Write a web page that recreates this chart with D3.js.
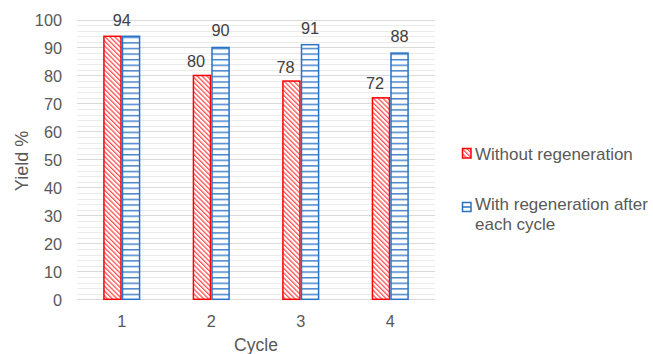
<!DOCTYPE html>
<html><head><meta charset="utf-8">
<script src="https://cdn.jsdelivr.net/npm/d3@7"></script>
<style>body{margin:0;background:#fff}svg{display:block;font-family:"Liberation Sans",Arial,sans-serif}</style>
</head><body>
<svg id="c" width="653" height="354"></svg>
<script>
const cycles = ["1","2","3","4"];
const withoutRegen = [94, 80, 78, 72];
const withRegen = [94, 90, 91, 88];
const seriesNames = ["Without regeneration", "With regeneration after each cycle"];
const yTicks = [0,10,20,30,40,50,60,70,80,90,100];

const svg = d3.select("#c");
const m = {l:77, r:435, t:19.5, b:299.3};
const x = d3.scaleBand().domain(cycles).range([m.l, m.r]).paddingInner(0.585).paddingOuter(0.2925);
const y = d3.scaleLinear().domain([0,100]).range([m.b, m.t]);
const bw = x.bandwidth()/2;

const defs = svg.append("defs");
const pr = defs.append("pattern").attr("id","pRed").attr("patternUnits","userSpaceOnUse")
  .attr("width",3.4).attr("height",10).attr("patternTransform","rotate(-45)");
pr.append("rect").attr("width",3.4).attr("height",10).attr("fill","#fff");
pr.append("line").attr("x1",0.7).attr("x2",0.7).attr("y1",0).attr("y2",10).attr("stroke","#ff3030").attr("stroke-width",1.1);
const pb = defs.append("pattern").attr("id","pBlue").attr("patternUnits","userSpaceOnUse")
  .attr("width",10).attr("height",5.59).attr("y", m.b);
pb.append("rect").attr("width",10).attr("height",5.59).attr("fill","#fff");
pb.append("line").attr("x1",0).attr("x2",10).attr("y1",0.75).attr("y2",0.75).attr("stroke","#3a7cc8").attr("stroke-width",1.4);

// minor grid
const minor = d3.range(0,101,2).filter(v=>v%10!==0);
svg.append("g").selectAll("line").data(minor).join("line")
  .attr("x1",m.l).attr("x2",m.r).attr("y1",d=>Math.round(y(d))+0.5).attr("y2",d=>Math.round(y(d))+0.5)
  .attr("stroke","#ebebeb").attr("stroke-width",1);
// major grid
svg.append("g").selectAll("line").data(yTicks).join("line")
  .attr("x1",m.l).attr("x2",m.r).attr("y1",d=>Math.round(y(d))+0.5).attr("y2",d=>Math.round(y(d))+0.5)
  .attr("stroke","#d9d9d9").attr("stroke-width",1.2);

// y axis labels
const yAxis = d3.axisLeft(y).tickValues(yTicks).tickSize(0).tickPadding(15);
const gy = svg.append("g").attr("transform",`translate(${m.l},0)`).call(yAxis);
gy.select(".domain").remove();
gy.selectAll("text").attr("font-size",16.3).attr("fill","#595959").attr("font-family","Liberation Sans, Arial, sans-serif").attr("dy","0.35em");

// x axis labels
const xAxis = d3.axisBottom(x).tickSize(0).tickPadding(16);
const gx = svg.append("g").attr("transform",`translate(0,${m.b})`).call(xAxis);
gx.select(".domain").remove();
gx.selectAll("text").attr("font-size",16.3).attr("fill","#595959").attr("font-family","Liberation Sans, Arial, sans-serif");

// bars
const rows = cycles.map((c,i)=>({c, a:withoutRegen[i], b:withRegen[i]}));
svg.append("g").selectAll("rect").data(rows).join("rect")
  .attr("x",d=>x(d.c)+0.75).attr("width",bw-1.5)
  .attr("y",d=>y(d.a)).attr("height",d=>y(0)-y(d.a))
  .attr("fill","url(#pRed)").attr("stroke","#ff0000").attr("stroke-width",1.5);
svg.append("g").selectAll("rect").data(rows).join("rect")
  .attr("x",d=>x(d.c)+bw+0.75).attr("width",bw-1.5)
  .attr("y",d=>y(d.b)).attr("height",d=>y(0)-y(d.b))
  .attr("fill","url(#pBlue)").attr("stroke","#2a72c4").attr("stroke-width",1.5);

// value labels
const lg = svg.append("g").attr("font-size",16.3).attr("fill","#404040").attr("text-anchor","middle");
rows.forEach(d=>{
  if (d.a === d.b) {
    lg.append("text").attr("x",x(d.c)+bw).attr("y",y(d.b)-10.5).text(d.b);
  } else {
    lg.append("text").attr("x",x(d.c)+bw/2-6).attr("y",y(d.a)-8.5).text(d.a);
    lg.append("text").attr("x",x(d.c)+bw*1.5).attr("y",y(d.b)-11).text(d.b);
  }
});

// axis titles
svg.append("text").attr("x",(m.l+m.r)/2).attr("y",350.5).attr("text-anchor","middle")
  .attr("font-size",17.5).attr("fill","#595959").text("Cycle");
svg.append("text").attr("transform","translate(27.5,161) rotate(-90)").attr("text-anchor","middle")
  .attr("font-size",18).attr("fill","#595959").text("Yield %");

// legend
const leg = svg.append("g");
leg.append("rect").attr("x",462.5).attr("y",148.5).attr("width",8.5).attr("height",9.5)
  .attr("fill","url(#pRed)").attr("stroke","#ff0000").attr("stroke-width",1.5);
leg.append("text").attr("x",475).attr("y",159.5).attr("font-size",17).attr("fill","#595959").text(seriesNames[0]);
leg.append("rect").attr("x",462.5).attr("y",202.5).attr("width",8.5).attr("height",9)
  .attr("fill","#fff").attr("stroke","#2a72c4").attr("stroke-width",1.5);
leg.append("line").attr("x1",462.5).attr("x2",471).attr("y1",207).attr("y2",207).attr("stroke","#2a72c4").attr("stroke-width",1.5);
const t2 = leg.append("text").attr("x",475).attr("y",209.5).attr("font-size",17).attr("fill","#595959");
t2.append("tspan").attr("x",475).text("With regeneration after");
t2.append("tspan").attr("x",475).attr("dy",20).text("each cycle");
</script>
</body></html>
